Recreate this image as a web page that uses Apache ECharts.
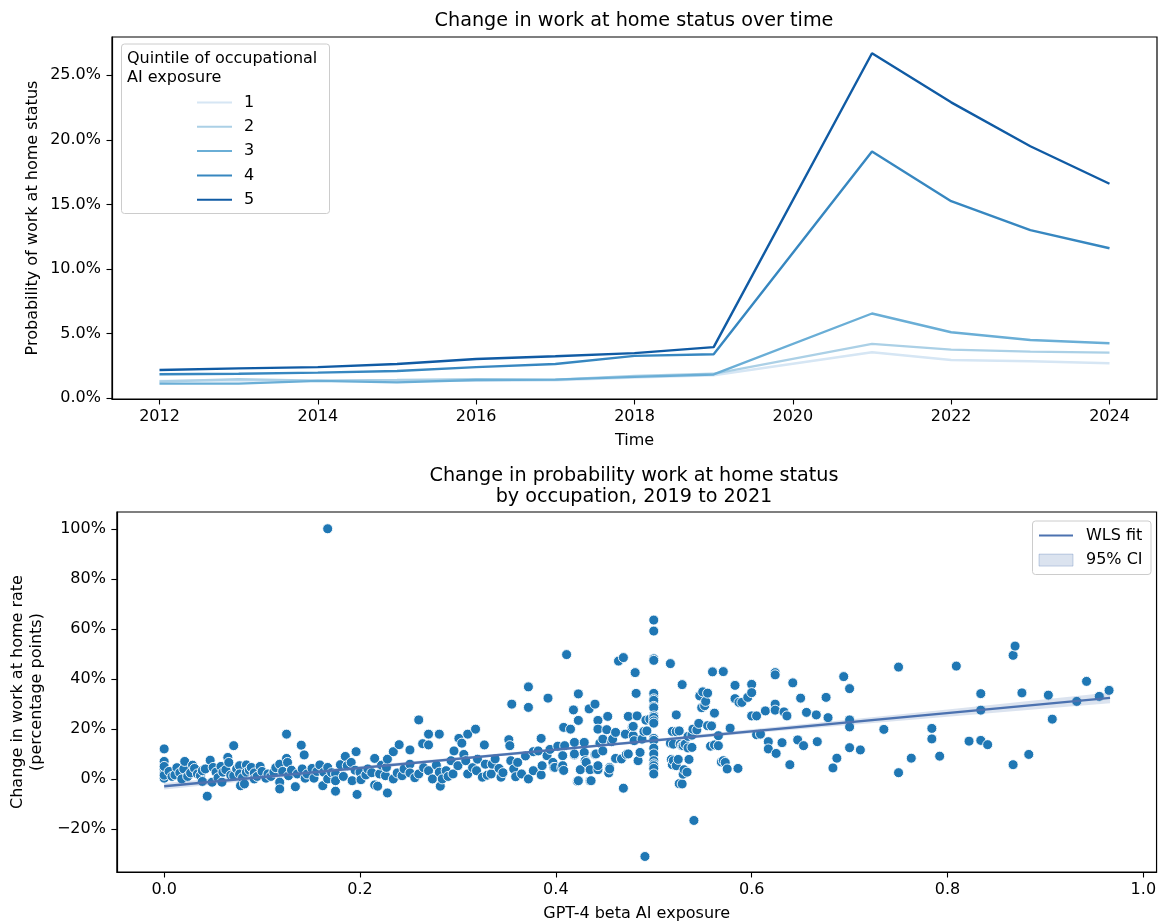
<!DOCTYPE html>
<html>
<head>
<meta charset="utf-8">
<script src="https://cdn.jsdelivr.net/npm/echarts@6/dist/echarts.min.js"></script>
<style>
  html, body { margin: 0; padding: 0; background: #ffffff; }
  #chart { width: 1159px; height: 923px; }
</style>
</head>
<body>
<div id="chart"></div>
<script>
// ---- Work-at-home probability by AI exposure quintile (percent) ----
// 2020 is not in the survey series, so lines run straight from 2019 to 2021.
const years = [2012, 2013, 2014, 2015, 2016, 2017, 2018, 2019, 2021, 2022, 2023, 2024];
const quintileNames = ['1', '2', '3', '4', '5'];
const q1 = [1.33, 1.38, 1.33, 1.33, 1.33, 1.38, 1.59, 1.77, 3.55, 2.95, 2.85, 2.70];
const q2 = [1.28, 1.46, 1.35, 1.40, 1.46, 1.43, 1.72, 1.88, 4.20, 3.75, 3.60, 3.52];
const q3 = [1.12, 1.12, 1.33, 1.22, 1.40, 1.43, 1.64, 1.83, 6.55, 5.10, 4.50, 4.25];
const q4 = [1.85, 1.88, 1.97, 2.10, 2.40, 2.64, 3.27, 3.40, 19.10, 15.25, 13.00, 11.60];
const q5 = [2.18, 2.30, 2.40, 2.64, 3.03, 3.24, 3.48, 3.95, 26.70, 22.90, 19.50, 16.60];
const quintileColors = ['#d6e6f4', '#abd0e6', '#6aaed6', '#3787c0', '#105ba4'];

const yearTicks = [2012, 2014, 2016, 2018, 2020, 2022, 2024];
const shareTicks = [0, 5, 10, 15, 20, 25];

// ---- Occupation-level change 2019 -> 2021 (percentage points) vs GPT-4 beta exposure ----
const exposurePoints = [
  [0,12.0],[0,7.0],[0,3.8],[0,2.4],[0,0.3],[0,1.5],[0,5.0],
  [0.005,3.0],[0.008,1.0],[0.011,1.6],[0.013,4.5],[0.016,2.5],[0.018,0],[0.020,4.0],[0.021,7.0],
  [0.024,1.0],[0.027,2.4],[0.029,5.5],[0.031,4.2],[0.034,2.0],[0.037,1.3],[0.039,3.3],[0.039,-1.0],
  [0.042,4.0],[0.044,-6.9],[0.047,7.5],[0.049,-1.3],[0.050,4.6],[0.053,2.7],[0.055,0.5],[0.058,5.0],
  [0.059,-1.3],[0.060,2.7],[0.063,3.7],[0.065,8.6],[0.066,6.6],[0.068,1.5],[0.071,13.3],[0.071,1.3],
  [0.074,4.0],[0.077,5.3],[0.077,2.0],[0.078,-2.7],[0.080,0.5],[0.082,-2.0],[0.084,5.6],[0.084,2.7],
  [0.087,3.5],[0.089,4.6],[0.092,2.4],[0.092,0],[0.095,1.0],[0.098,5.0],[0.100,3.0],[0.104,0.3],
  [0.106,2.0],[0.109,1.0],[0.112,2.7],[0.114,4.5],[0.118,-1.3],[0.118,-4.0],[0.118,5.9],[0.121,3.0],
  [0.125,17.9],[0.125,8.2],[0.126,6.6],[0.127,1.3],[0.130,3.5],[0.134,-3.1],[0.136,2.0],[0.140,13.5],
  [0.141,4.0],[0.143,9.6],[0.144,0.3],[0.146,2.0],[0.151,4.2],[0.153,0.3],[0.156,3.0],[0.159,5.6],
  [0.162,-2.7],[0.163,2.7],[0.167,4.6],[0.167,0],[0.167,100],[0.171,2.5],[0.175,-4.9],[0.175,2.0],
  [0.175,-0.7],[0.180,5.7],[0.183,1.0],[0.185,9.0],[0.187,5.3],[0.191,6.6],[0.192,-0.7],[0.195,3.5],
  [0.196,10.9],[0.197,-6.2],[0.200,2.7],[0.201,-0.3],[0.206,1.6],[0.208,4.0],[0.212,2.5],[0.215,-2.4],
  [0.215,8.2],[0.218,-2.9],[0.220,2.0],[0.222,5.5],[0.226,1.3],[0.227,4.6],[0.228,7.9],[0.228,-5.6],
  [0.234,10.9],[0.234,0],[0.238,2.4],[0.240,13.7],[0.243,1.3],[0.245,4.0],[0.251,11.6],[0.251,5.9],
  [0.251,2.4],[0.256,0.5],[0.260,23.6],[0.260,2.0],[0.264,14.1],[0.265,4.5],[0.270,17.9],[0.270,13.6],
  [0.270,3.3],[0.274,0],[0.278,5.5],[0.281,17.9],[0.281,2.7],[0.282,-2.9],[0.284,0],[0.288,3.3],
  [0.290,1.0],[0.293,7.3],[0.295,2.0],[0.296,11.2],[0.300,5.3],[0.301,16.2],[0.304,14.3],[0.306,9.8],
  [0.308,7.3],[0.310,17.9],[0.310,2.0],[0.315,4.5],[0.318,19.9],[0.319,3.3],[0.320,7.9],[0.325,0.7],
  [0.327,13.6],[0.328,5.9],[0.330,1.5],[0.334,2.0],[0.335,5.9],[0.338,8.0],[0.342,4.2],[0.344,0.7],
  [0.346,2.5],[0.352,15.7],[0.353,13.3],[0.354,7.3],[0.355,29.9],[0.357,4.0],[0.359,0.9],[0.361,6.6],
  [0.365,2.0],[0.369,9.2],[0.372,36.8],[0.372,28.6],[0.372,0],[0.377,3.3],[0.377,10.9],[0.382,11.2],
  [0.385,16.2],[0.385,1.6],[0.386,5.3],[0.391,9.3],[0.392,32.3],[0.394,11.8],[0.397,6.6],[0.398,4.6],
  [0.399,4.6],[0.402,13.1],[0.406,4.6],[0.407,9.3],[0.407,5.3],[0.408,20.6],[0.408,3.4],[0.409,13.3],
  [0.411,49.7],[0.415,19.9],[0.418,27.6],[0.419,14.6],[0.419,9.6],[0.419,10.0],[0.422,-0.9],[0.423,34.0],
  [0.423,23.4],[0.423,-0.7],[0.425,3.7],[0.429,14.6],[0.429,10.6],[0.430,7.3],[0.431,6.6],[0.434,28.0],
  [0.435,-0.7],[0.435,3.7],[0.436,-0.7],[0.440,29.9],[0.440,9.8],[0.441,10.0],[0.443,23.4],[0.443,19.9],
  [0.443,3.7],[0.443,5.3],[0.445,14.3],[0.448,15.9],[0.448,11.2],[0.452,19.7],[0.453,25.0],[0.454,2.4],
  [0.455,4.6],[0.455,4.0],[0.457,14.9],[0.458,15.9],[0.461,18.6],[0.461,8.2],[0.464,47.1],[0.467,8.0],
  [0.469,48.5],[0.469,-3.7],[0.471,17.9],[0.472,9.8],[0.474,25.0],[0.474,10.0],[0.478,20.6],[0.479,17.3],
  [0.479,21.0],[0.480,15.3],[0.481,42.5],[0.482,34.2],[0.483,25.2],[0.484,7.3],[0.486,10.6],[0.488,15.9],
  [0.490,19.0],[0.491,-31.0],[0.492,23.5],[0.493,19.2],[0.496,23.9],
  [0.5,63.5],[0.5,59.1],[0.5,48.0],[0.5,47.4],[0.5,34.2],[0.5,32.0],[0.5,31.4],[0.5,29.0],[0.5,28.5],
  [0.5,25.2],[0.5,24.6],[0.5,23.2],[0.5,22.3],[0.5,16.2],[0.5,15.4],[0.5,12.3],[0.5,10.0],[0.5,7.3],
  [0.5,6.0],[0.5,5.3],[0.5,4.2],[0.5,2.0],
  [0.517,46.1],[0.517,14.3],[0.518,7.8],[0.519,19.0],[0.519,5.7],[0.520,7.3],[0.520,13.9],[0.523,25.6],
  [0.523,5.3],[0.523,18.9],[0.525,7.8],[0.526,-1.9],[0.526,19.2],[0.527,13.9],[0.529,37.7],[0.529,-2.0],
  [0.529,13.3],[0.530,1.9],[0.530,13.3],[0.531,3.7],[0.532,13.9],[0.534,2.7],[0.535,17.0],[0.535,12.4],
  [0.536,7.8],[0.539,17.5],[0.539,12.6],[0.540,19.9],[0.541,-16.6],[0.544,19.6],[0.546,22.2],[0.547,33.2],
  [0.549,28.5],[0.550,34.8],[0.552,29.3],[0.553,31.0],[0.555,34.3],[0.555,21.3],[0.558,13.1],[0.559,21.2],
  [0.560,42.8],[0.562,26.3],[0.562,13.6],[0.566,17.3],[0.566,13.3],[0.569,6.8],[0.571,42.9],[0.571,7.3],
  [0.573,6.6],[0.575,4.0],[0.578,20.3],[0.583,37.4],[0.583,32.1],[0.586,4.2],[0.587,30.6],[0.590,30.6],
  [0.596,32.6],[0.600,37.8],[0.600,34.5],[0.600,25.2],[0.605,25.2],[0.605,17.7],[0.609,17.9],[0.614,27.2],
  [0.617,14.9],[0.617,12.0],[0.624,42.5],[0.624,41.6],[0.624,29.9],[0.624,27.5],[0.625,10.2],[0.631,14.5],
  [0.633,26.8],[0.636,25.2],[0.639,5.7],[0.642,38.4],[0.647,15.6],[0.650,32.3],[0.653,13.3],[0.656,26.6],
  [0.666,25.6],[0.667,14.9],[0.676,32.6],[0.678,24.5],[0.683,4.4],[0.687,8.3],[0.694,40.9],[0.700,36.1],
  [0.700,23.6],[0.700,20.8],[0.700,12.5],[0.711,11.6],[0.735,19.8],[0.750,44.7],[0.750,2.5],[0.763,8.3],
  [0.784,20.2],[0.784,16.0],[0.792,9.1],[0.809,45.1],[0.822,15.1],[0.834,34.1],[0.834,27.5],[0.834,15.4],
  [0.841,13.7],[0.867,49.4],[0.869,53.1],[0.867,5.7],[0.876,34.4],[0.883,9.8],[0.903,33.5],[0.907,23.9],
  [0.932,31.0],[0.942,39.0],[0.955,33.0],[0.965,35.4]
];

// Weighted least squares fit line and its 95% confidence band
const fitX = [0, 0.966];
const fitY = [-2.9, 32.4];
const ciX    = [0, 0.1, 0.2, 0.3, 0.4, 0.5, 0.6, 0.7, 0.8, 0.9, 0.966];
const ciLow  = [-4.2, -0.25, 3.66, 7.52, 11.22, 14.78, 18.23, 21.59, 24.89, 28.15, 30.26];
const ciHigh = [-1.6, 1.75, 5.16, 8.62, 12.22, 15.98, 19.83, 23.79, 27.79, 31.85, 34.56];

const exposureTicks = [0, 0.2, 0.4, 0.6, 0.8, 1.0];
const changeTicks = [-20, 0, 20, 40, 60, 80, 100];

// ---- Chart ----
const FONT = 'DejaVu Sans';
const quintiles = [q1, q2, q3, q4, q5];
const BAND_FILL = 'rgba(76,114,176,0.2)';

const axisCommon = {
  axisLine: { show: true, onZero: false, lineStyle: { color: '#000', width: 1.2 } },
  axisTick: { show: true, length: 5.5, lineStyle: { color: '#000', width: 1.1 } },
  splitLine: { show: false },
  nameTextStyle: { fontFamily: FONT, fontSize: 16, color: '#000' }
};

const chart = echarts.init(document.getElementById('chart'), null, { renderer: 'canvas' });

const lineSeries = quintiles.map((vals, i) => ({
  name: quintileNames[i],
  type: 'line',
  xAxisIndex: 0,
  yAxisIndex: 0,
  data: years.map((y, j) => [y, vals[j]]),
  symbol: 'none',
  lineStyle: { color: quintileColors[i], width: 2.4 },
  itemStyle: { color: quintileColors[i] },
  emphasis: { disabled: true },
  z: 2 + i
}));

// Confidence band drawn as one polygon through the axis scales
function renderBand(params, api) {
  if (params.dataIndex !== 0) return null;
  const pts = [];
  for (let i = 0; i < ciX.length; i++) pts.push(api.coord([ciX[i], ciHigh[i]]));
  for (let i = ciX.length - 1; i >= 0; i--) pts.push(api.coord([ciX[i], ciLow[i]]));
  return {
    type: 'polygon',
    shape: { points: pts },
    style: { fill: BAND_FILL, stroke: 'none' }
  };
}

const option = {
  animation: false,
  backgroundColor: '#ffffff',
  textStyle: { fontFamily: FONT },
  title: [
    {
      text: 'Change in work at home status over time',
      left: 634, top: 12, textAlign: 'center', padding: 0,
      textStyle: { fontFamily: FONT, fontSize: 19.2, fontWeight: 'normal', color: '#000' }
    },
    {
      text: 'Change in probability work at home status\nby occupation, 2019 to 2021',
      left: 634, top: 465, textAlign: 'center', padding: 0,
      textStyle: { fontFamily: FONT, fontSize: 19.2, fontWeight: 'normal', color: '#000', lineHeight: 21.5 }
    }
  ],
  grid: [
    { left: 112, right: 2, top: 37, bottom: 524, show: true, borderColor: '#000', borderWidth: 1.2, backgroundColor: 'transparent' },
    { left: 112, right: 2, top: 512, bottom: 50, show: true, borderColor: '#000', borderWidth: 1.2, backgroundColor: 'transparent' }
  ],
  xAxis: [
    Object.assign({}, axisCommon, {
      type: 'value', gridIndex: 0, min: 2011.4, max: 2024.6,
      name: 'Time', nameLocation: 'middle', nameGap: 34,
      axisTick: Object.assign({}, axisCommon.axisTick, { customValues: yearTicks }),
      axisLabel: { customValues: yearTicks, margin: 10, fontFamily: FONT, fontSize: 16, color: '#000',
                   formatter: v => String(v) }
    }),
    Object.assign({}, axisCommon, {
      type: 'value', gridIndex: 1, min: -0.0483, max: 1.0135,
      name: 'GPT-4 beta AI exposure', nameLocation: 'middle', nameGap: 34,
      axisTick: Object.assign({}, axisCommon.axisTick, { customValues: exposureTicks }),
      axisLabel: { customValues: exposureTicks, margin: 10, fontFamily: FONT, fontSize: 16, color: '#000',
                   formatter: v => v.toFixed(1) }
    })
  ],
  yAxis: [
    Object.assign({}, axisCommon, {
      type: 'value', gridIndex: 0, min: -0.07, max: 27.96,
      name: 'Probability of work at home status', nameLocation: 'middle', nameGap: 71,
      nameMoveOverlap: false,
      axisTick: Object.assign({}, axisCommon.axisTick, { customValues: shareTicks }),
      axisLabel: { customValues: shareTicks, margin: 11, fontFamily: FONT, fontSize: 16, color: '#000',
                   formatter: v => v.toFixed(1) + '%' }
    }),
    Object.assign({}, axisCommon, {
      type: 'value', gridIndex: 1, min: -37.2, max: 106.7,
      name: 'Change in work at home rate\n(percentage points)', nameLocation: 'middle', nameGap: 66,
      nameTextStyle: { fontFamily: FONT, fontSize: 16, color: '#000', lineHeight: 19, align: 'center' },
      axisTick: Object.assign({}, axisCommon.axisTick, { customValues: changeTicks }),
      axisLabel: { customValues: changeTicks, margin: 11, fontFamily: FONT, fontSize: 16, color: '#000',
                   formatter: v => (v < 0 ? '\u2212' + Math.abs(v) : v) + '%' }
    })
  ],
  legend: [
    {
      data: quintileNames,
      orient: 'vertical',
      left: 196, top: 94.5,
      itemWidth: 35, itemHeight: 16, itemGap: 8.3,
      padding: 0,
      selectedMode: false,
      itemStyle: { opacity: 0 },
      textStyle: { fontFamily: FONT, fontSize: 16, color: '#000', padding: [0, 0, 0, 7] }
    },
    {
      data: [
        { name: 'WLS fit', itemStyle: { opacity: 0 } },
        { name: '95% CI', icon: 'rect',
          itemStyle: { color: BAND_FILL, borderColor: 'rgba(76,114,176,0.3)', borderWidth: 1, opacity: 1 } }
      ],
      orient: 'vertical',
      left: 1038, top: 527.5,
      itemWidth: 34, itemHeight: 12, itemGap: 8.6,
      padding: 0,
      selectedMode: false,
      textStyle: { fontFamily: FONT, fontSize: 16, color: '#000', lineHeight: 16, padding: [0, 0, 0, 8] }
    }
  ],
  graphic: [
    {
      type: 'rect', left: 121, top: 43.5, z: 0,
      shape: { width: 208, height: 169.5, r: 3 },
      style: { fill: 'rgba(255,255,255,0.8)', stroke: '#cccccc', lineWidth: 1 }
    },
    {
      type: 'text', left: 127, top: 50, z: 10,
      style: { text: 'Quintile of occupational\nAI exposure', fontFamily: FONT, fontSize: 16,
               lineHeight: 18.5, fill: '#000' }
    },
    {
      type: 'rect', left: 1032, top: 520.5, z: 0,
      shape: { width: 118.5, height: 53.5, r: 3 },
      style: { fill: 'rgba(255,255,255,0.8)', stroke: '#cccccc', lineWidth: 1 }
    }
  ],
  series: lineSeries.concat([
    {
      name: 'points',
      type: 'scatter',
      xAxisIndex: 1, yAxisIndex: 1,
      data: exposurePoints,
      symbol: 'circle',
      symbolSize: 10,
      itemStyle: { color: '#1f77b4', borderColor: '#ffffff', borderWidth: 0.9, opacity: 1 },
      emphasis: { disabled: true },
      z: 2
    },
    {
      name: '95% CI',
      type: 'custom',
      xAxisIndex: 1, yAxisIndex: 1,
      data: ciX.map((x, i) => [x, ciLow[i], ciHigh[i]]),
      encode: { x: 0, y: [1, 2] },
      renderItem: renderBand,
      itemStyle: { color: BAND_FILL },
      clip: true,
      silent: true,
      z: 3
    },
    {
      name: 'WLS fit',
      type: 'line',
      xAxisIndex: 1, yAxisIndex: 1,
      data: fitX.map((x, i) => [x, fitY[i]]),
      symbol: 'none',
      lineStyle: { color: '#4c72b0', width: 2.4 },
      itemStyle: { color: '#4c72b0' },
      emphasis: { disabled: true },
      z: 4
    }
  ])
};

chart.setOption(option);
</script>
</body>
</html>
